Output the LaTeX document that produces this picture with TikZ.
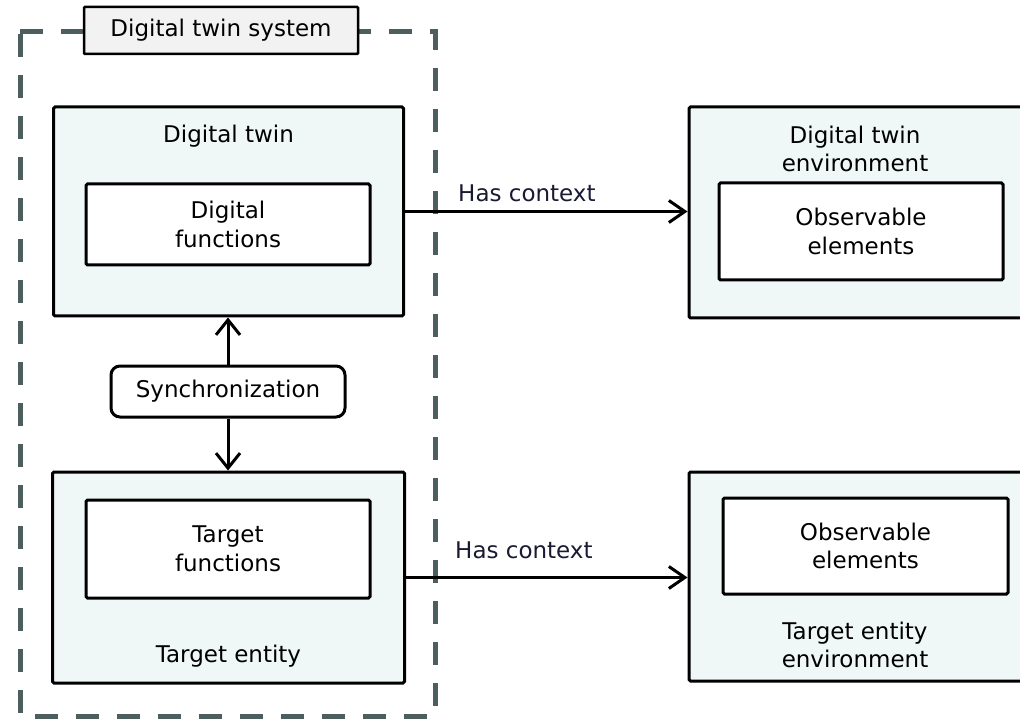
\documentclass[tikz,border=0pt]{standalone}
\usepackage{fontspec}
\setmainfont{DejaVu Sans}
\usetikzlibrary{arrows.meta}
\definecolor{boxfill}{HTML}{EFF7F7}
\definecolor{titlefill}{HTML}{F2F2F2}
\definecolor{framegray}{HTML}{4D5E5E}
\definecolor{labelink}{HTML}{1A1A33}
\newcommand{\diagfont}{\fontsize{23pt}{28.5pt}\selectfont}
\tikzset{
  txt/.style={font=\diagfont, align=center, inner sep=0pt},
  outerbox/.style={draw=black, line width=3pt, fill=boxfill, rounded corners=1.5pt, inner sep=0pt},
  innerbox/.style={draw=black, line width=3pt, fill=white, rounded corners=1.5pt, inner sep=0pt,
                   font=\diagfont, align=center},
  syncbox/.style={draw=black, line width=3pt, fill=white, rounded corners=9pt, inner sep=0pt,
                  font=\diagfont},
  titlebox/.style={draw=black, line width=2.5pt, fill=titlefill, rounded corners=1pt, inner sep=0pt,
                   font=\diagfont},
  frame/.style={draw=framegray, line width=5pt, dash pattern=on 23pt off 18pt},
  link/.style={draw=black, line width=3pt, -{Straight Barb[length=16pt, width=22pt, line width=3pt]}},
  sync/.style={draw=black, line width=3pt, -{Straight Barb[length=15pt, width=24pt, line width=3pt]}},
  ctx/.style={font=\diagfont, text=labelink, inner sep=0pt}
}
\begin{document}
\begin{tikzpicture}[x=1pt, y=-1pt]
  \clip (0,0) rectangle (1020,719);
  \fill[white] (0,0) rectangle (1020,719);

  % dashed boundary of the digital twin system
  \draw[frame] (20,32) -- (435,32) -- (435,716) -- (20,716) -- cycle;
  \node[titlebox, minimum width=274pt, minimum height=47pt] (title) at (221,30.5) {Digital twin system};

  % digital twin
  \node[outerbox, minimum width=350pt, minimum height=209pt] (dt) at (228.5,211.5) {};
  \node[txt] (dtlabel) at (228.5,136) {Digital twin};
  \node[innerbox, minimum width=284pt, minimum height=81pt] (dtf) at (228,224.5) {Digital\\functions};

  % synchronization
  \node[syncbox, minimum width=234pt, minimum height=51pt] (sync) at (228,391.5) {Synchronization};

  % target entity
  \node[outerbox, minimum width=352pt, minimum height=211pt] (te) at (228.5,577.5) {};
  \node[innerbox, minimum width=284pt, minimum height=98pt] (tef) at (228,549) {Target\\functions};
  \node[txt] (telabel) at (228.5,656) {Target entity};

  % digital twin environment
  \node[outerbox, minimum width=344pt, minimum height=211pt] (dtenv) at (861,212.5) {};
  \node[txt] (dtenvlabel) at (855,149) {Digital twin\\environment};
  \node[innerbox, minimum width=284pt, minimum height=97pt] (obs1) at (861,231.5) {Observable\\elements};

  % target entity environment
  \node[outerbox, minimum width=344pt, minimum height=209pt] (teenv) at (861,576.5) {};
  \node[innerbox, minimum width=285pt, minimum height=96pt] (obs2) at (865.5,546) {Observable\\elements};
  \node[txt] (teenvlabel) at (855,645) {Target entity\\environment};

  % connectors
  \draw[sync] (sync.north) -- (sync.north |- dt.south);
  \draw[sync] (sync.south) -- (sync.south |- te.north);
  \draw[link] (dt.east) -- (dt.east -| dtenv.west);
  \draw[link] (te.east) -- (te.east -| teenv.west);
  \node[ctx, anchor=base west] (ctx1) at (458,202) {Has context};
  \node[ctx, anchor=base west] (ctx2) at (455,558) {Has context};
\end{tikzpicture}
\end{document}
